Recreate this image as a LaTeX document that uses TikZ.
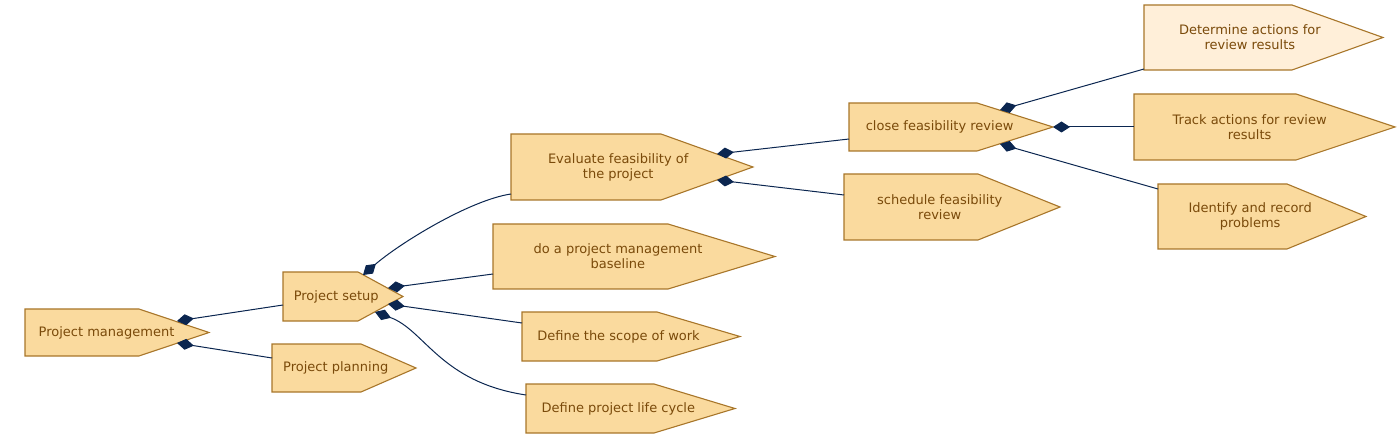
\documentclass[tikz,border=0pt]{standalone}
\usepackage{fontspec}
\setmainfont{DejaVu Sans}
\usetikzlibrary{arrows.meta}
\definecolor{boxfill}{HTML}{FADA9E}
\definecolor{boxlight}{HTML}{FFEFD9}
\definecolor{boxline}{HTML}{A8762A}
\definecolor{txtcol}{HTML}{7A4A0A}
\definecolor{conn}{HTML}{0B2650}
\tikzset{
  shapebox/.style={draw=boxline, fill=boxfill, line width=1.1pt, line join=miter},
  lightbox/.style={shapebox, fill=boxlight},
  boxtext/.style={text=txtcol, font=\fontsize{13}{15}\selectfont, align=center, inner sep=0pt},
  link/.style={draw=conn, line width=1pt, {Diamond[length=17pt,width=11pt]}-},
}
% style, name, left, top, bottom, flat, tip, text
\newcommand\pbox[8]{%
  \path[#1] (#3,#4) -- (#6,#4) -- (#7,{(#4+#5)/2}) -- (#6,#5) -- (#3,#5) -- cycle;
  \node[boxtext] (#2) at ({(#3+#7-0.3*(#7-#6))/2},{(#4+#5)/2}) {#8};
}
\begin{document}
\begin{tikzpicture}[x=1pt,y=-1pt]
\useasboundingbox (0,0) rectangle (1400,438);
% boxes
\pbox{shapebox}{pm}{25}{309}{356}{139}{209}{Project management}
\pbox{shapebox}{plan}{272}{344}{392}{361}{416}{Project planning}
\pbox{shapebox}{setup}{283}{272}{321}{358}{403}{Project setup}
\pbox{shapebox}{evalf}{511}{134}{200}{661}{753}{Evaluate feasibility of\\the project}
\pbox{shapebox}{base}{493}{224}{289}{668}{775}{do a project management\\baseline}
\pbox{shapebox}{scope}{522}{312}{361}{657}{740}{Define the scope of work}
\pbox{shapebox}{life}{526}{384}{433}{654}{735}{Define project life cycle}
\pbox{shapebox}{close}{849}{103}{151}{977}{1053}{close feasibility review}
\pbox{shapebox}{sched}{844}{174}{240}{978}{1060}{schedule feasibility\\review}
\pbox{lightbox}{determ}{1144}{5}{70}{1292}{1383}{Determine actions for\\review results}
\pbox{shapebox}{track}{1134}{94}{160}{1296}{1395}{Track actions for review\\results}
\pbox{shapebox}{ident}{1158}{184}{249}{1287}{1366}{Identify and record\\problems}
% connector end points
\coordinate (pm-a) at (177,321);
\coordinate (pm-b) at (177,343);
\coordinate (setup-in) at (283,305);
\coordinate (plan-in) at (272,358);
\coordinate (setup-a) at (363,275);
\coordinate (setup-b) at (388,288);
\coordinate (setup-c) at (388,304);
\coordinate (setup-d) at (375,312);
\coordinate (evalf-in) at (511,194);
\coordinate (base-in) at (493,274);
\coordinate (scope-in) at (522,323);
\coordinate (life-in) at (526,395);
\coordinate (evalf-a) at (717,154);
\coordinate (evalf-b) at (717,180);
\coordinate (close-in) at (849,139);
\coordinate (sched-in) at (844,195);
\coordinate (close-a) at (1000,110);
\coordinate (close-b) at (1053,127);
\coordinate (close-c) at (1000,144);
\coordinate (determ-in) at (1144,69);
\coordinate (track-in) at (1134,127);
\coordinate (ident-in) at (1158,189);
% connectors
\draw[link] (pm-a) -- (setup-in);
\draw[link] (pm-b) -- (plan-in);
\draw[link] (setup-a) .. controls (400,243) and (470,200) .. (evalf-in);
\draw[link] (setup-b) -- (base-in);
\draw[link] (setup-c) -- (scope-in);
\draw[link] (setup-d) .. controls (425,330) and (440,382) .. (life-in);
\draw[link] (evalf-a) -- (close-in);
\draw[link] (evalf-b) -- (sched-in);
\draw[link] (close-a) -- (determ-in);
\draw[link] (close-b) -- (track-in);
\draw[link] (close-c) -- (ident-in);
\end{tikzpicture}
\end{document}
